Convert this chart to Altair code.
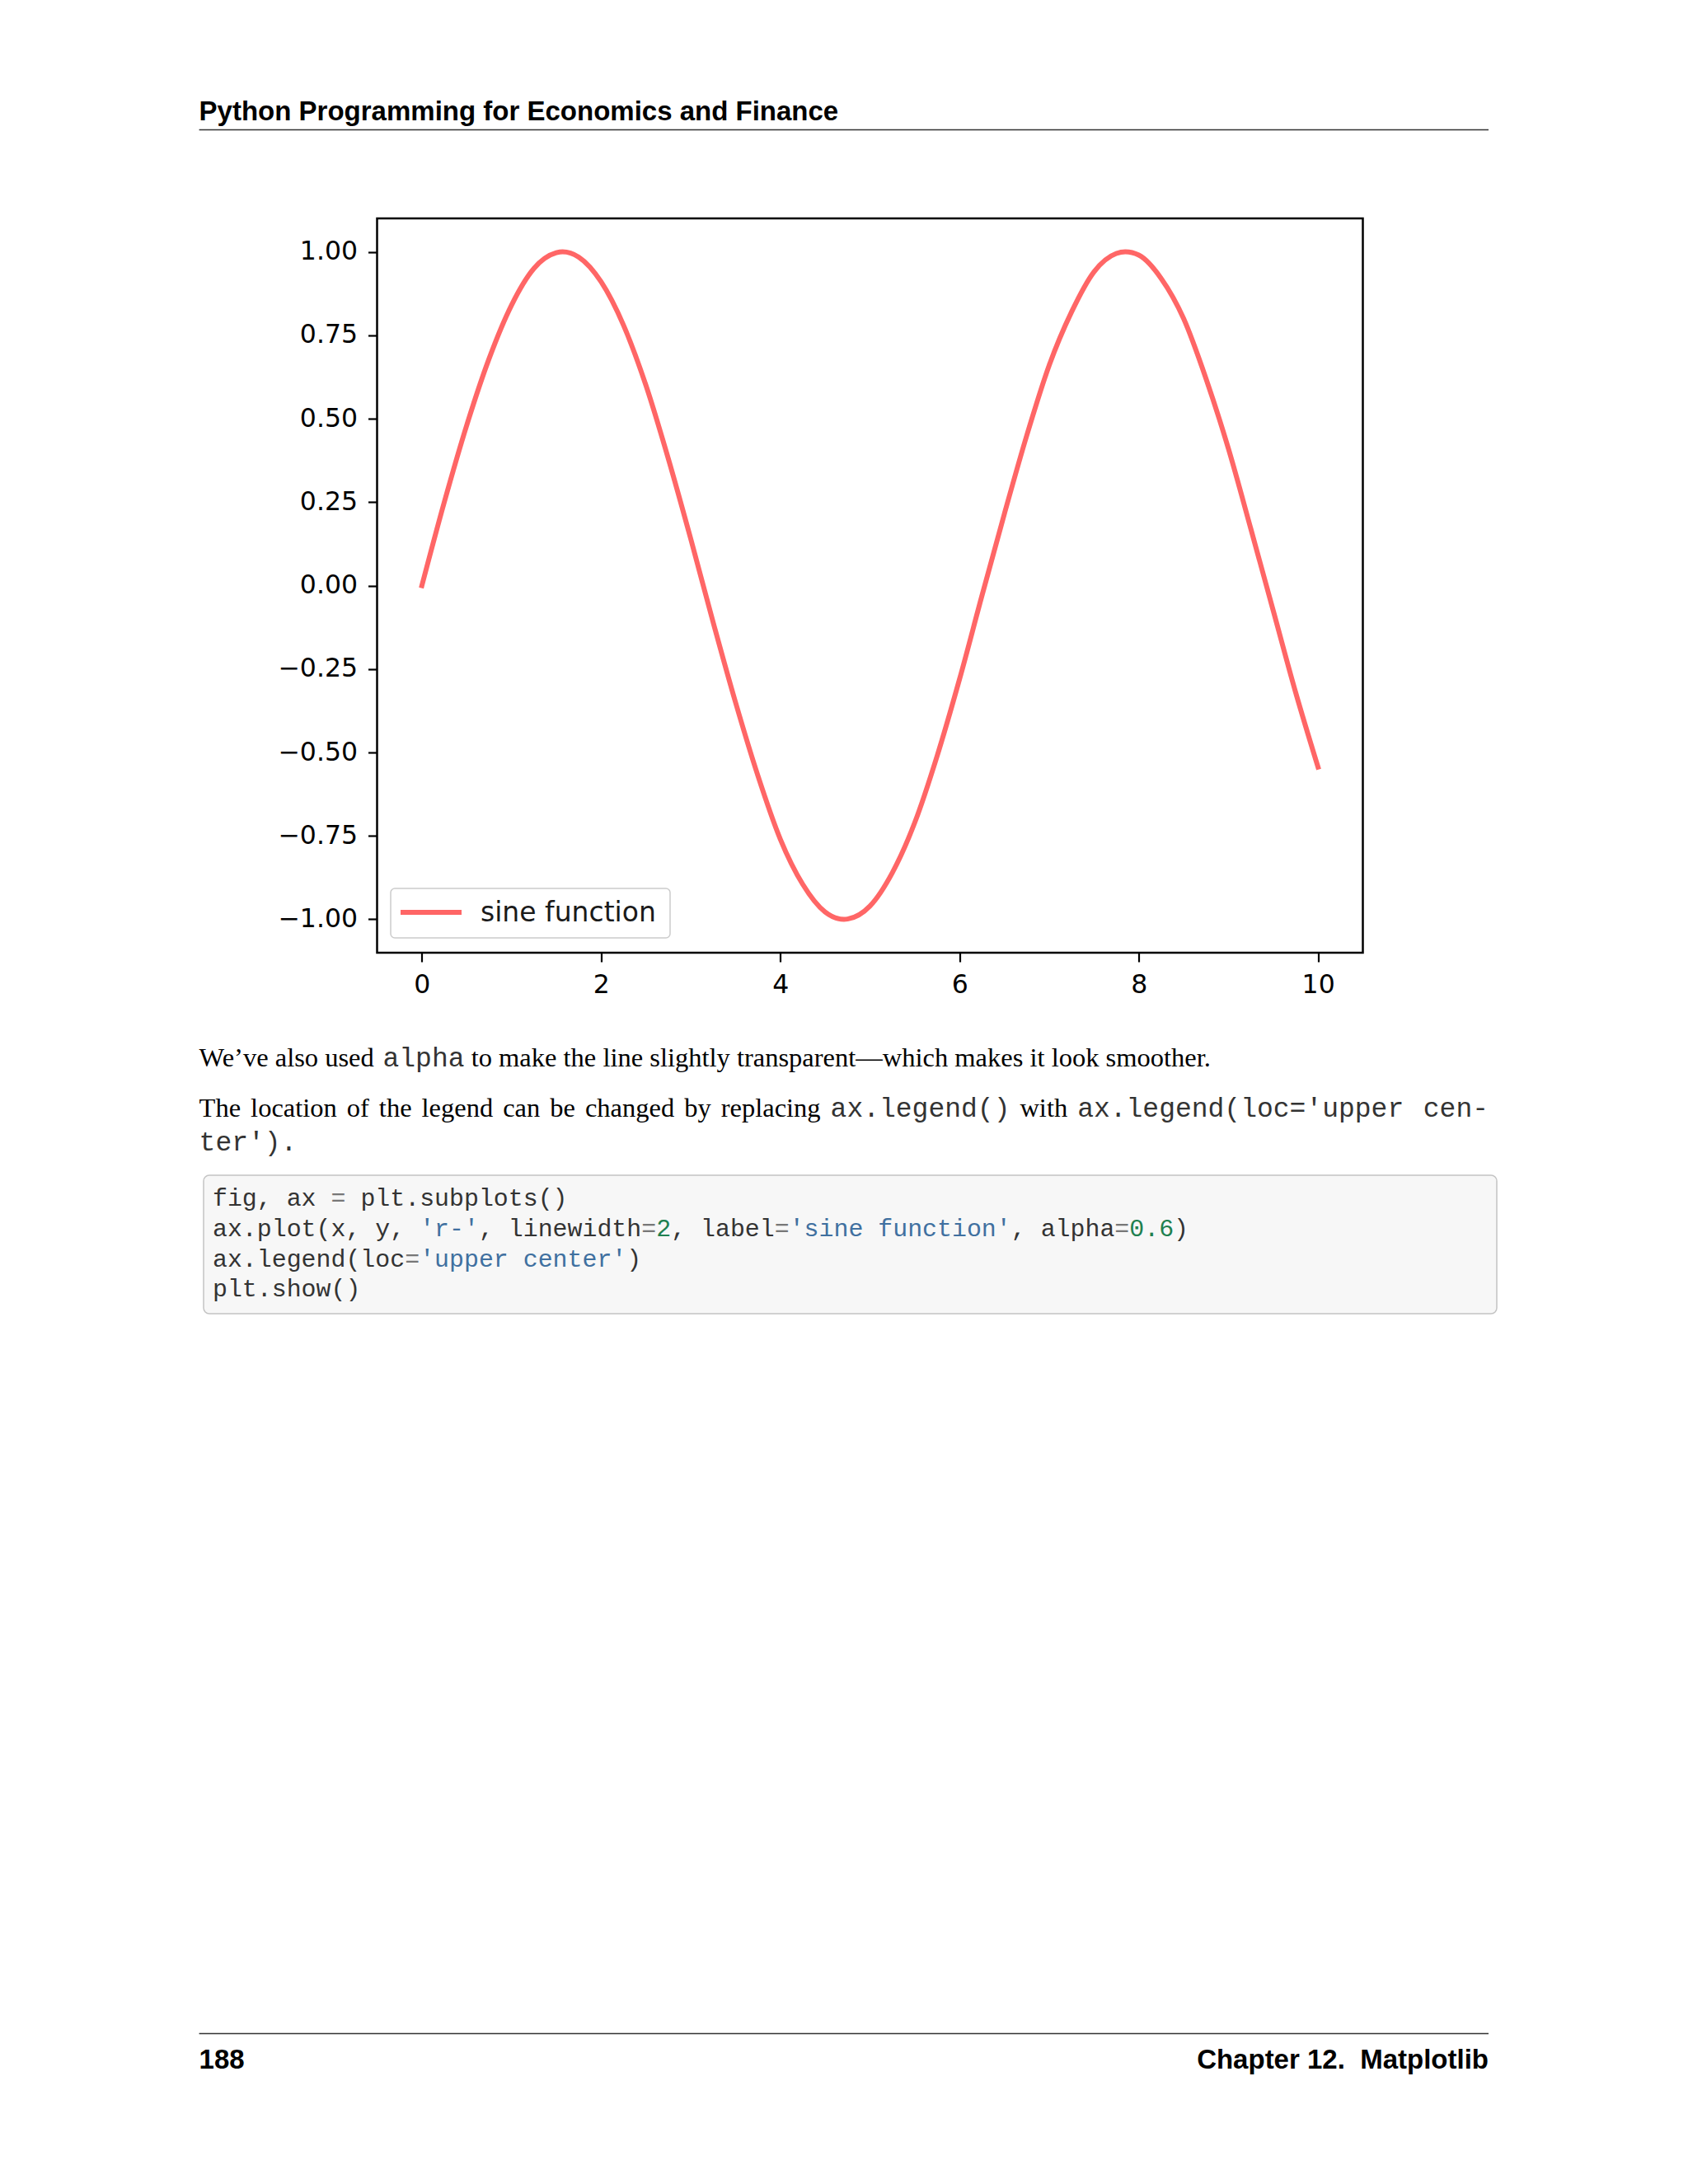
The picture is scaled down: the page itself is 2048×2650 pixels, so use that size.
import altair as alt
import pandas as pd

# ---------------- data ----------------
x_vals = [0.0, 0.25, 0.5, 0.75, 1.0, 1.25, 1.5, 1.57, 1.75, 2.0, 2.25, 2.5, 2.75, 3.0,
          3.25, 3.5, 3.75, 4.0, 4.25, 4.5, 4.71, 4.75, 5.0, 5.25, 5.5, 5.75, 6.0,
          6.25, 6.5, 6.75, 7.0, 7.25, 7.5, 7.75, 7.85, 8.0, 8.25, 8.5, 8.75, 9.0,
          9.25, 9.5, 9.75, 10.0]
y_vals = [0.00, 0.25, 0.48, 0.68, 0.84, 0.95, 0.997, 1.00, 0.984, 0.91, 0.78, 0.60, 0.38, 0.14,
          -0.11, -0.35, -0.57, -0.76, -0.895, -0.978, -1.00, -0.999, -0.96, -0.86, -0.71, -0.51, -0.28,
          -0.03, 0.215, 0.45, 0.66, 0.82, 0.94, 0.995, 1.00, 0.99, 0.92, 0.80, 0.62, 0.41,
          0.17, -0.075, -0.32, -0.544]
x_ticks = [0, 2, 4, 6, 8, 10]
y_ticks = [-1.0, -0.75, -0.5, -0.25, 0.0, 0.25, 0.5, 0.75, 1.0]
legend_label = "sine function"

header_text = "Python Programming for Economics and Finance"
footer_left = "188"
footer_right = "Chapter 12.\u00a0 Matplotlib"
para1 = [("We\u2019ve also used", "serif"), ("alpha", "mono"),
         ("to make the line slightly transparent\u2014which makes it look smoother.", "serif")]
para2_line1 = [("The", "serif"), ("location", "serif"), ("of", "serif"), ("the", "serif"),
               ("legend", "serif"), ("can", "serif"), ("be", "serif"), ("changed", "serif"),
               ("by", "serif"), ("replacing", "serif"), ("ax.legend()", "mono"), ("with", "serif"),
               ("ax.legend(loc='upper", "mono"), ("cen-", "mono")]
para2_line2 = "ter')."
code_lines = [
    [("fig, ax ", "k"), ("=", "op"), (" plt.subplots()", "k")],
    [("ax.plot(x, y, ", "k"), ("'r-'", "s"), (", linewidth", "k"), ("=", "op"), ("2", "n"),
     (", label", "k"), ("=", "op"), ("'sine function'", "s"), (", alpha", "k"), ("=", "op"),
     ("0.6", "n"), (")", "k")],
    [("ax.legend(loc", "k"), ("=", "op"), ("'upper center'", "s"), (")", "k")],
    [("plt.show()", "k")],
]

# ---------------- layout / style ----------------
PX0, PY0 = 457.5, 265.0          # plot area origin on page
PW, PH = 1196, 891               # plot area size
LEFT, RIGHT = 241.6, 1806.0      # text block
SANS, SERIF, MONO = "Liberation Sans", "Liberation Serif", "Liberation Mono"
FS_HEAD, FS_SERIF, FS_MONO, FS_CODE = 33, 32.5, 33, 29.9
MONO_COLOR = "#333333"
RED = "#ff6666"
CODE_COL = {"k": "#333333", "op": "#777777", "s": "#4070a0", "n": "#208050"}

TIMES = {" ": 250, "T": 611, "W": 944, "a": 444, "b": 500, "c": 444, "d": 500, "e": 444,
         "f": 333, "g": 500, "h": 500, "i": 278, "k": 500, "l": 278, "m": 778, "n": 500,
         "o": 500, "p": 500, "r": 333, "s": 389, "t": 278, "u": 500, "v": 500, "w": 722,
         "y": 500, "\u2019": 333, "\u2014": 1000, ".": 250}


def width(s, kind):
    if kind == "mono":
        return len(s) * 0.6 * FS_MONO
    return sum(TIMES.get(ch, 500) for ch in s) / 1000.0 * FS_SERIF


def txt(s, x, y, font, size, color="black", weight="normal", align="left", baseline="alphabetic"):
    return alt.Chart(pd.DataFrame({"t": [s]})).mark_text(
        font=font, fontSize=size, fontWeight=weight, color=color, align=align, baseline=baseline
    ).encode(x=alt.value(x - PX0), y=alt.value(y - PY0), text="t:N")


def hrule(x1, x2, y, color, w):
    return alt.Chart(pd.DataFrame({"a": [0]})).mark_rule(color=color, strokeWidth=w).encode(
        x=alt.value(x1 - PX0), x2=alt.value(x2 - PX0), y=alt.value(y - PY0))


layers = []

# ---------------- the plot ----------------
df = pd.DataFrame({"x": x_vals, "y": y_vals})
line = alt.Chart(df).mark_line(color=RED, strokeWidth=6, interpolate="monotone", strokeCap="square").encode(
    x=alt.X("x:Q", scale=alt.Scale(domain=[-0.5, 10.5], nice=False, zero=False),
            axis=alt.Axis(values=x_ticks, format="d", title=None, labelPadding=12)),
    y=alt.Y("y:Q", scale=alt.Scale(domain=[-1.1, 1.1], nice=False, zero=False),
            axis=alt.Axis(values=y_ticks, format=".2f", title=None, labelPadding=13)),
)
layers.append(line)

# legend box (matplotlib style)
leg_box = alt.Chart(pd.DataFrame({"a": [0]})).mark_rect(
    fill="white", fillOpacity=0.8, stroke="#cccccc", strokeWidth=1.5, cornerRadius=5
).encode(x=alt.value(474 - PX0), x2=alt.value(813 - PX0), y=alt.value(1078 - PY0), y2=alt.value(1138 - PY0))
leg_line = alt.Chart(pd.DataFrame({"a": [0]})).mark_rule(color=RED, strokeWidth=6).encode(
    x=alt.value(486 - PX0), x2=alt.value(560 - PX0), y=alt.value(1107 - PY0))
layers += [leg_box, leg_line,
           txt(legend_label, 583, 1108, "DejaVu Sans", 33, color="#1a1a1a", baseline="middle")]

# ---------------- page furniture ----------------
layers.append(txt(header_text, LEFT, 146, SANS, FS_HEAD, weight="bold"))
layers.append(hrule(LEFT, RIGHT, 157.5, "#333333", 1.6))
layers.append(hrule(LEFT, RIGHT, 2467.5, "#333333", 1.6))
layers.append(txt(footer_left, LEFT, 2510, SANS, FS_HEAD, weight="bold"))
layers.append(txt(footer_right, RIGHT, 2510, SANS, FS_HEAD, weight="bold", align="right"))

# paragraph 1
xcur = LEFT
for s, kind in para1:
    if kind == "mono":
        layers.append(txt(s, xcur, 1294, MONO, FS_MONO, color=MONO_COLOR))
    else:
        layers.append(txt(s, xcur, 1294, SERIF, FS_SERIF))
    xcur += width(s, kind) + width(" ", "serif")

# paragraph 2, justified first line
words_w = sum(width(s, k) for s, k in para2_line1)
n_gaps = len(para2_line1) - 1
base_gaps = [0.6 * FS_MONO if (para2_line1[i][1] == "mono" and para2_line1[i + 1][1] == "mono")
             else width(" ", "serif") for i in range(n_gaps)]
stretch = (RIGHT - LEFT - words_w - sum(base_gaps)) / n_gaps
xcur = LEFT
for i, (s, kind) in enumerate(para2_line1):
    if kind == "mono":
        layers.append(txt(s, xcur, 1355, MONO, FS_MONO, color=MONO_COLOR))
    else:
        layers.append(txt(s, xcur, 1355, SERIF, FS_SERIF))
    if i < n_gaps:
        xcur += width(s, kind) + base_gaps[i] + stretch
layers.append(txt(para2_line2, LEFT, 1396, MONO, FS_MONO, color=MONO_COLOR))

# code block
code_box = alt.Chart(pd.DataFrame({"a": [0]})).mark_rect(
    fill="#f7f7f7", stroke="#c4c4c4", strokeWidth=1.5, cornerRadius=7
).encode(x=alt.value(247 - PX0), x2=alt.value(1816 - PX0), y=alt.value(1426 - PY0), y2=alt.value(1594 - PY0))
layers.append(code_box)
CW = 0.6 * FS_CODE
code_baselines = [1463, 1500, 1537, 1573]
for li, segs in enumerate(code_lines):
    col = 0
    for s, kind in segs:
        lead = len(s) - len(s.lstrip(" "))
        body = s.strip(" ")
        if body:
            layers.append(txt(body, 258 + (col + lead) * CW, code_baselines[li], MONO, FS_CODE,
                              color=CODE_COL[kind]))
        col += len(s)

chart = alt.layer(*layers).properties(
    width=PW, height=PH,
    autosize=alt.AutoSizeParams(type="none"),
    padding={"left": PX0 - 8, "top": PY0 - 8, "right": 2040 - PX0 - PW, "bottom": 2630 - PY0 - PH},
    background="white",
).configure_view(
    stroke="black", strokeWidth=2.5
).configure_axis(
    labelFont="DejaVu Sans", labelFontSize=31.5, labelColor="black",
    tickColor="black", tickWidth=2.2, tickSize=11, domain=False, grid=False,
)

chart.save("out.html", embed_options={"renderer": "svg", "actions": False})
